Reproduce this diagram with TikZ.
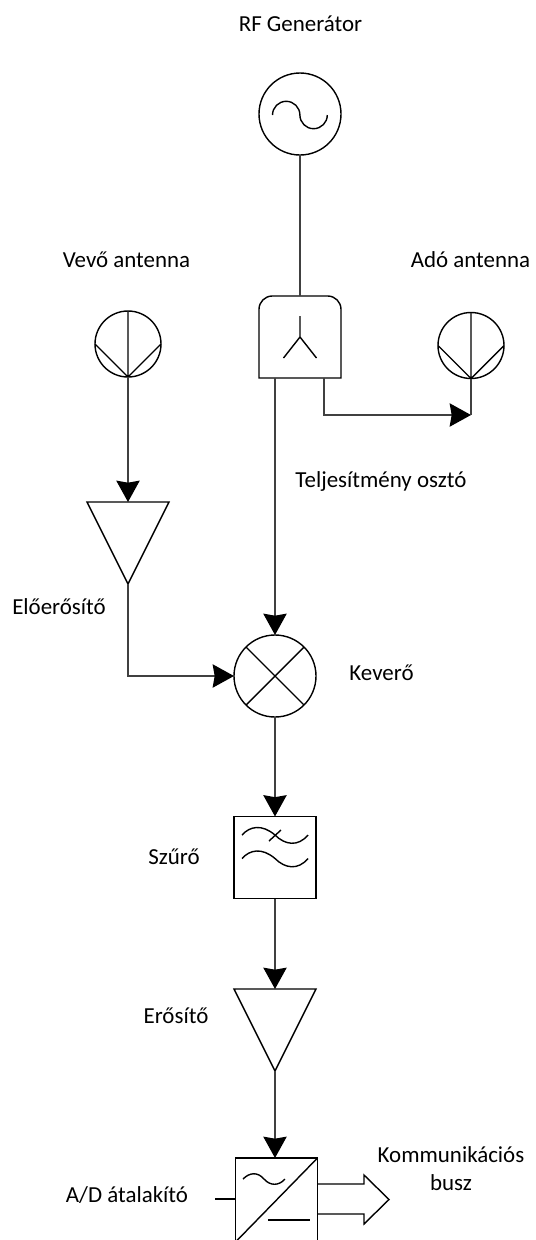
\documentclass[tikz,border=0pt]{standalone}
\usepackage{fontspec}
\setmainfont{Carlito}
\usetikzlibrary{arrows.meta,shapes.geometric,calc}
\definecolor{conn}{gray}{0.25}
\tikzset{
  x=0.75pt,y=-0.75pt,
  sym/.style={line width=1.05pt,black},
  wire/.style={line width=1.2pt,conn},
  arrowed/.style={wire,-{Stealth[length=16pt,width=17.5pt,inset=1.5pt,black]}},
  bigcirc/.style={circle,draw,sym,minimum size=61.5pt,inner sep=0pt,outer sep=0pt},
  antcirc/.style={circle,draw,sym,minimum size=49.5pt,inner sep=0pt,outer sep=0pt},
  box/.style={rectangle,draw,sym,minimum size=61.5pt,inner sep=0pt,outer sep=0pt},
  ampl/.style={isosceles triangle,isosceles triangle stretches,shape border rotate=-90,draw,sym,minimum width=61.5pt,minimum height=61.5pt,inner sep=0pt,outer sep=0pt,anchor=apex},
  lbl/.style={font=\fontsize{17.2pt}{21pt}\selectfont,text=black,inner sep=0pt,align=center}
}
\begin{document}
\begin{tikzpicture}
\useasboundingbox (0,0) rectangle (536,1240);
% symbols
\node[bigcirc] (gen) at (300,114) {};
\draw[sym] (272.5,115) arc[start angle=180,end angle=360,radius=13.7] arc[start angle=180,end angle=0,radius=13.7];
\node[rectangle,minimum size=61.5pt,inner sep=0pt,outer sep=0pt] (split) at (300,337) {};
\draw[sym] (split.south west) -- ([yshift=-10pt]split.north west) to[out=90,in=180] ([xshift=10pt]split.north west) -- ([xshift=-10pt]split.north east) to[out=0,in=90] ([yshift=-10pt]split.north east) -- (split.south east) -- cycle;
\draw[sym] (300,316) -- (300,337) (283.5,358) -- (300,337) -- (316.5,358);
\node[antcirc] (rx) at (128,344) {};
\draw[sym] (rx.north) -- (rx.south) (rx.west) -- (rx.south) -- (rx.east);
\node[antcirc] (tx) at (471,345.5) {};
\draw[sym] (tx.north) -- (tx.south) (tx.west) -- (tx.south) -- (tx.east);
\node[ampl] (pre) at (128,584) {};
\node[bigcirc] (mix) at (275,676) {};
\draw[sym] (mix.north west) -- (mix.south east) (mix.north east) -- (mix.south west);
\node[box] (filt) at (275,857.5) {};
\foreach \dy in {0,23.5}{
  \draw[sym,yshift=-0.75*\dy pt] (242,835) .. controls (250,826) and (262,824) .. (275,835) .. controls (285,845) and (298,847) .. (308,835);
}
\draw[sym] (269,841) -- (281,830);
\node[ampl] (amp) at (275,1071) {};
\node[rectangle,minimum width=61.5pt,minimum height=63pt,inner sep=0pt,outer sep=0pt,draw,sym] (adc) at (276.5,1200) {};
\draw[sym] (adc.north east) -- (adc.south west);
\draw[sym] (243,1179) .. controls (250,1172) and (258,1172) .. (264,1179) .. controls (270,1186) and (279,1186) .. (285,1179);
\draw[sym] (268,1220) -- (310,1220);
\coordinate (adin) at (215,1199);
\coordinate (busA) at (adc.east |- 0,1184);
\coordinate (busB) at (adc.east |- 0,1214);
\draw[sym] (busA) -- (364,1184) -- (364,1175) -- (389,1199.5) -- (364,1224) -- (364,1214) -- (busB);
\draw[sym] (adin) -- (adin -| adc.west);
% connectors
\draw[wire] (gen.south) -- (split.north);
\draw[arrowed] (rx.south) -- (pre.lower side);
\draw[arrowed] (pre.apex) |- (mix.west);
\draw[arrowed] (split.south -| mix.north) -- (mix.north);
\coordinate (tap) at (324,378);
\coordinate (txin) at (471,415);
\draw[arrowed] (tap) |- (txin);
\draw[wire] (tx.south) -- (txin);
\draw[arrowed] (mix.south) -- (filt.north);
\draw[arrowed] (filt.south) -- (amp.lower side);
\draw[arrowed] (amp.apex) -- (adc.north -| amp.apex);
% labels
\node[lbl] (l1) at (300.5,24) {RF Generátor};
\node[lbl] (l2) at (126.5,260) {Vevő antenna};
\node[lbl] (l3) at (470.5,260) {Adó antenna};
\node[lbl] (l4) at (381,481) {Teljesítmény osztó};
\node[lbl] (l5) at (59,607) {Előerősítő};
\node[lbl] (l6) at (381.5,673) {Keverő};
\node[lbl] (l7) at (174,857) {Szűrő};
\node[lbl] (l8) at (176,1016) {Erősítő};
\node[lbl] (l9) at (127,1195) {A/D átalakító};
\node[lbl] (l10) at (451,1169) {Kommunikációs\\busz};
\end{tikzpicture}
\end{document}
